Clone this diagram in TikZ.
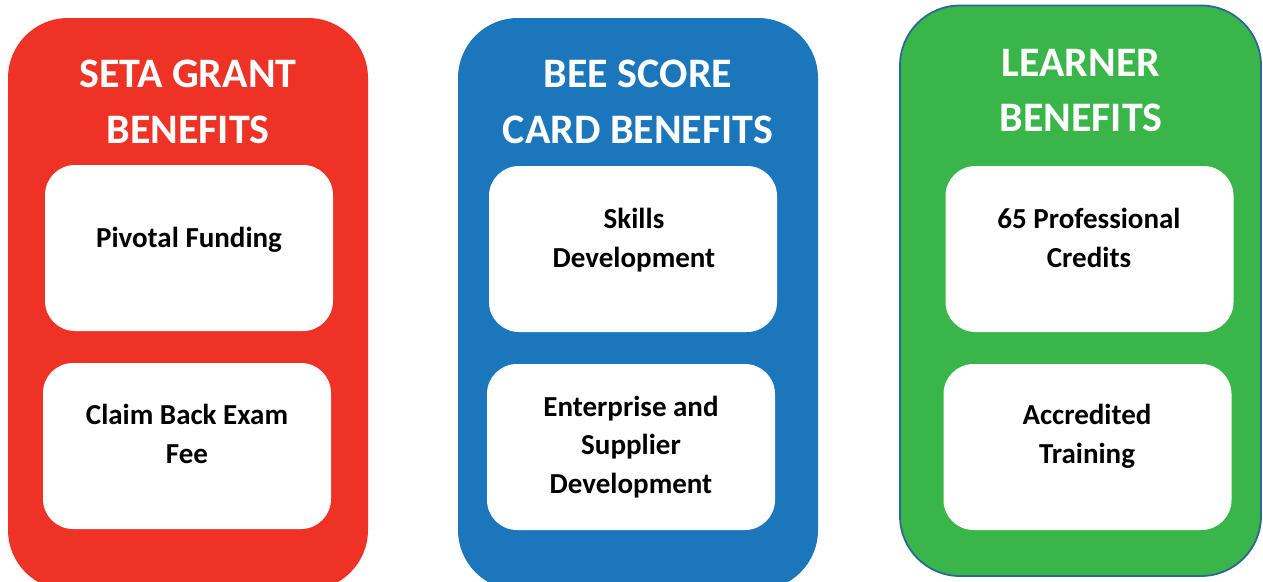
\documentclass[tikz,border=0pt]{standalone}
\usepackage{fontspec}
\setmainfont{Carlito}
\definecolor{cred}{RGB}{238,50,37}
\definecolor{cblue}{RGB}{28,118,188}
\definecolor{cgreen}{RGB}{58,181,74}
\definecolor{cgreenborder}{RGB}{44,104,150}
\tikzset{
  panel/.style={rounded corners=60pt},
  wbox/.style={draw=none, fill=white, rounded corners=30pt, minimum width=288pt, minimum height=166pt, inner sep=0pt},
  title/.style={text=white, font=\bfseries\fontsize{42}{56}\selectfont, align=center, anchor=base, inner sep=0pt},
  titleg/.style={title, font=\bfseries\fontsize{42}{55}\selectfont},
  lbl/.style={text=black, font=\bfseries\fontsize{29}{38.5}\selectfont, align=center, anchor=base, inner sep=0pt}
}
\begin{document}
\begin{tikzpicture}[x=1pt,y=-1pt]
\clip (0,0) rectangle (1263,581);
\fill[white] (0,0) rectangle (1263,581);
% panels
\fill[cred, panel] (8,18) rectangle (368,590);
\fill[cblue, panel] (458,18) rectangle (818,590);
\filldraw[fill=cgreen, draw=cgreenborder, line width=1.8pt, panel] (900,5.5) rectangle (1261,576);
% titles (anchor base = baseline of last line)
\node[title] (t1) at (188,143) {SETA GRANT\\BENEFITS};
\node[title] (t2) at (638,143) {BEE SCORE\\CARD BENEFITS};
\node[titleg] (t3) at (1081,131) {LEARNER\\BENEFITS};
% white boxes
\node[wbox] (r1) at (189,248) {};
\node[wbox] (r2) at (187,446) {};
\node[wbox] (b1) at (633,249) {};
\node[wbox] (b2) at (631,447) {};
\node[wbox] (g1) at (1089.5,249) {};
\node[wbox] (g2) at (1087.5,447) {};
% labels
\node[lbl] (lr1) at (189,247) {Pivotal Funding};
\node[lbl] (lr2) at (187,463) {Claim Back Exam\\Fee};
\node[lbl] (lb1) at (634,267) {Skills\\Development};
\node[lbl] (lb2) at (631,493) {Enterprise and\\Supplier\\Development};
\node[lbl] (lg1) at (1089,267) {65 Professional\\Credits};
\node[lbl] (lg2) at (1087,463) {Accredited\\Training};
\end{tikzpicture}
\end{document}
